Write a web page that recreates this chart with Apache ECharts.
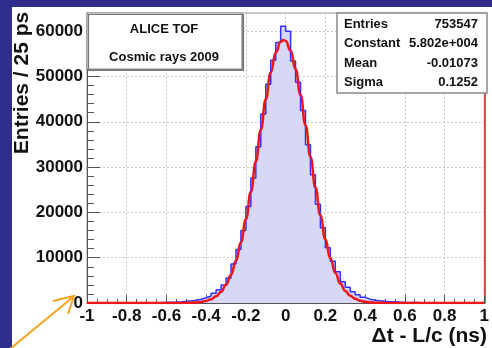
<!DOCTYPE html>
<html><head><meta charset="utf-8">
<script src="https://cdn.jsdelivr.net/npm/echarts@6/dist/echarts.min.js"></script>
<style>html,body{margin:0;padding:0;background:#2e2d8c;}#c{width:492px;height:348px;}</style>
</head><body><div id="c"></div>
<script>
// ---- data ----
const binStart = -1;
const binWidth = 0.025;
const counts = [8, 10, 12, 10, 15, 18, 20, 25, 28, 35, 40, 50, 60, 75, 100, 140,
  190, 240, 300, 380, 480, 620, 820, 1150, 1550, 2150, 2900, 4000, 5500, 8600,
  11800, 16000, 21300, 27600, 34500, 41700, 48300, 53600, 57500, 61100,
  60000, 53400, 48700, 42500, 34900, 28300, 21800, 16600, 12200, 9200,
  6900, 4700, 3500, 2500, 1800, 1250, 850, 620, 480, 380,
  300, 250, 200, 160, 130, 110, 90, 75, 60, 50,
  45, 40, 35, 30, 25, 20, 18, 15, 12, 10];
const fitX = [-1, -0.55, -0.525, -0.5, -0.475, -0.45, -0.425, -0.4, -0.375, -0.35, -0.325, -0.3, -0.275, -0.25,
  -0.225, -0.2, -0.175, -0.15, -0.125, -0.1, -0.075, -0.05, -0.025, -0.0107, 0, 0.025, 0.05, 0.075, 0.1,
  0.125, 0.15, 0.175, 0.2, 0.225, 0.25, 0.275, 0.3, 0.325, 0.35, 0.375, 0.4, 0.425, 0.45, 0.475, 0.5, 0.525, 0.55, 1];
const fitY = [0, 5, 13, 28, 60, 123, 243, 461, 842, 1475, 2484, 4020, 6249, 9339,
  13409, 18500, 24527, 31244, 38248, 44989, 50852, 55231, 57643, 58020, 57808, 55709, 51586, 45902, 39249,
  32246, 25459, 19314, 14079, 9863, 6638, 4294, 2669, 1594, 914, 504, 267, 136, 67, 31, 14, 6, 2, 0];
const boxLines = ['ALICE TOF', 'Cosmic rays 2009'];
const statNames = ['Entries', 'Constant', 'Mean', 'Sigma'];
const statValues = ['753547', '5.802e+004', '-0.01073', '0.1252'];
const yTitle = 'Entries / 25 ps';
const xTitle = 'Δt - L/c (ns)';

// ---- build ----
const histData = counts.map((v, i) => [binStart + i * binWidth, v]);
histData.push([binStart + counts.length * binWidth, counts[counts.length - 1]]);
const fitData = fitX.map((x, i) => [x, fitY[i]]);

const FONT = '"Liberation Sans", Arial, Helvetica, sans-serif';
const chart = echarts.init(document.getElementById('c'), null, {renderer: 'canvas'});

const graphics = [
  {type: 'rect', z: -100, shape: {x: 12, y: 7, width: 480, height: 341}, style: {fill: '#ffffff'}},
  {type: 'rect', z: 100, shape: {x: 87, y: 13, width: 155, height: 56},
    style: {fill: '#fff', stroke: '#8a8a8a', lineWidth: 1.2, shadowColor: '#777', shadowOffsetX: 1.5, shadowOffsetY: 1.5, shadowBlur: 0}},
  {type: 'rect', z: 100, shape: {x: 337, y: 13, width: 150, height: 80},
    style: {fill: '#fff', stroke: '#8a8a8a', lineWidth: 1.5}},
  {type: 'text', z: 101, x: 22, y: 83, rotation: Math.PI / 2,
    style: {text: yTitle, font: 'bold 21px ' + FONT, fill: '#111', align: 'center', verticalAlign: 'middle'}},
  {type: 'text', z: 101, x: 487, y: 336,
    style: {text: xTitle, font: 'bold 21px ' + FONT, fill: '#111', align: 'right', verticalAlign: 'middle'}},
  {type: 'polyline', z: 101, shape: {points: [[10, 349], [73, 297]]},
    style: {stroke: '#f7a21e', lineWidth: 2, fill: null}},
  {type: 'polyline', z: 101, shape: {points: [[53, 301], [74, 296], [68, 314]]},
    style: {stroke: '#f7a21e', lineWidth: 2, fill: null}}
];
const boxY = [29, 57];
boxLines.forEach((t, i) => graphics.push({type: 'text', z: 101, x: 164, y: boxY[i],
  style: {text: t, font: 'bold 13px ' + FONT, fill: '#111', align: 'center', verticalAlign: 'middle'}}));
const statY = [24, 43.5, 63, 82];
statNames.forEach((t, i) => {
  graphics.push({type: 'text', z: 101, x: 344, y: statY[i],
    style: {text: t, font: 'bold 13px ' + FONT, fill: '#111', align: 'left', verticalAlign: 'middle'}});
  graphics.push({type: 'text', z: 101, x: 478, y: statY[i],
    style: {text: statValues[i], font: 'bold 13px ' + FONT, fill: '#111', align: 'right', verticalAlign: 'middle'}});
});

chart.setOption({
  animation: false,
  backgroundColor: '#2e2d8c',
  grid: {left: 87, right: 5, top: 13, bottom: 45, show: true, borderColor: '#9a9a9a', borderWidth: 1, backgroundColor: 'transparent'},
  xAxis: {
    type: 'value', min: -1, max: 1, interval: 0.2,
    axisLine: {show: true, onZero: false, lineStyle: {color: '#555', width: 1}},
    axisTick: {show: true, inside: true, length: 8, lineStyle: {color: '#555'}},
    minorTick: {show: true, splitNumber: 4, length: 4, lineStyle: {color: '#555'}},
    splitLine: {show: true, lineStyle: {color: '#c8c8c8', type: [2, 2], width: 1}},
    axisLabel: {color: '#111', fontWeight: 'bold', fontSize: 17, fontFamily: FONT, margin: 5,
      formatter: v => String(Math.round(v * 10) / 10)}
  },
  yAxis: [{
    type: 'value', min: 0, max: 64000, interval: 10000, position: 'left',
    axisLine: {show: true, onZero: false, lineStyle: {color: '#555', width: 1}},
    axisTick: {show: true, inside: true, length: 13, lineStyle: {color: '#555'}},
    minorTick: {show: true, splitNumber: 5, length: 7, lineStyle: {color: '#555'}},
    splitLine: {show: true, lineStyle: {color: '#c8c8c8', type: [2, 2], width: 1}},
    axisLabel: {color: '#111', fontWeight: 'bold', fontSize: 17, fontFamily: FONT, margin: 4,
      showMaxLabel: false, formatter: v => String(v)}
  }, {
    type: 'value', position: 'right', min: 0, max: 1,
    axisLine: {show: true, onZero: false, lineStyle: {color: '#e41a1a', width: 1.5}},
    axisTick: {show: false}, minorTick: {show: false}, axisLabel: {show: false}, splitLine: {show: false}
  }],
  series: [{
    type: 'line', step: 'end', data: histData, symbol: 'none', z: 3,
    lineStyle: {color: '#3030ff', width: 1.5},
    areaStyle: {color: '#d7d7f6', opacity: 1}
  }, {
    type: 'line', data: fitData, symbol: 'none', smooth: true, smoothMonotone: 'x', z: 4,
    lineStyle: {color: '#f01414', width: 2.5}
  }],
  graphic: graphics
});
</script></body></html>
